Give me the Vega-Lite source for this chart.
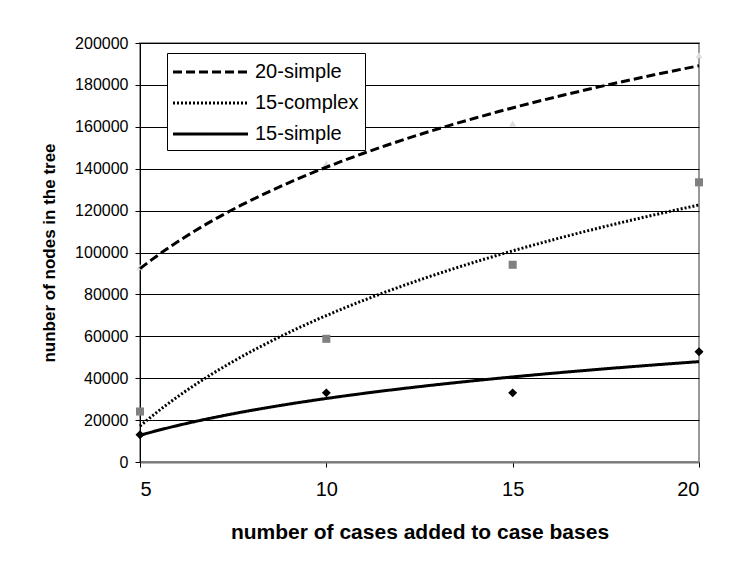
{
  "$schema": "https://vega.github.io/schema/vega-lite/v6.json",
  "autosize": {"type": "none"},
  "padding": {"left": 140, "top": 43, "right": 36, "bottom": 105},
  "width": 559,
  "height": 419,
  "background": "white",
  "config": {
    "font": "Liberation Sans",
    "view": {"stroke": "#999999", "strokeWidth": 2},
    "axis": {"labelFont": "Liberation Sans", "titleFont": "Liberation Sans", "labelColor": "black", "titleColor": "black", "tickColor": "black"}
  },
  "data": {
    "values": [
      {"cases": 5, "nodes": 13000, "series": "15-simple"},
      {"cases": 10, "nodes": 33000, "series": "15-simple"},
      {"cases": 15, "nodes": 33000, "series": "15-simple"},
      {"cases": 20, "nodes": 52600, "series": "15-simple"},
      {"cases": 5, "nodes": 24100, "series": "15-complex"},
      {"cases": 10, "nodes": 58800, "series": "15-complex"},
      {"cases": 15, "nodes": 94150, "series": "15-complex"},
      {"cases": 20, "nodes": 133500, "series": "15-complex"},
      {"cases": 5, "nodes": 93000, "series": "20-simple"},
      {"cases": 10, "nodes": 142400, "series": "20-simple"},
      {"cases": 15, "nodes": 161600, "series": "20-simple"},
      {"cases": 20, "nodes": 194200, "series": "20-simple"}
    ]
  },
  "encoding": {
    "x": {
      "field": "cases", "type": "quantitative",
      "scale": {"domain": [5, 20], "nice": false, "zero": false},
      "axis": {
        "title": "number of cases added to case bases",
        "values": [5, 10, 15, 20],
        "grid": false,
        "domainColor": "#777777", "domainWidth": 2,
        "tickSize": 5, "labelFontSize": 20, "labelPadding": 12,
        "titleFontSize": 21, "titleFontWeight": "bold", "titlePadding": 22
      }
    },
    "y": {
      "field": "nodes", "type": "quantitative",
      "scale": {"domain": [0, 200000], "nice": false},
      "axis": {
        "title": "nunber of nodes in the tree",
        "values": [0, 20000, 40000, 60000, 80000, 100000, 120000, 140000, 160000, 180000, 200000],
        "format": "d",
        "grid": true, "gridColor": "black", "gridWidth": 1,
        "domainColor": "black", "domainWidth": 1,
        "tickSize": 5, "labelFontSize": 16, "labelPadding": 7,
        "titleFontSize": 17, "titleFontWeight": "bold", "titlePadding": 16
      }
    }
  },
  "layer": [
    {
      "mark": {"type": "point", "filled": true, "opacity": 1, "clip": false},
      "encoding": {
        "shape": {
          "field": "series", "type": "nominal",
          "scale": {"domain": ["15-simple", "15-complex", "20-simple"], "range": ["diamond", "square", "triangle-up"]},
          "legend": null
        },
        "color": {
          "field": "series", "type": "nominal",
          "scale": {"domain": ["15-simple", "15-complex", "20-simple"], "range": ["#000000", "#808080", "#dddddd"]},
          "legend": null
        },
        "size": {
          "field": "series", "type": "nominal",
          "scale": {"domain": ["15-simple", "15-complex", "20-simple"], "range": [80, 50, 70]},
          "legend": null
        }
      }
    },
    {
      "transform": [
        {"regression": "nodes", "on": "cases", "groupby": ["series"], "method": "log", "extent": [5, 20]}
      ],
      "mark": {"type": "line", "color": "black", "strokeWidth": 3, "clip": false},
      "encoding": {
        "strokeDash": {
          "field": "series", "type": "nominal",
          "scale": {"domain": ["20-simple", "15-complex", "15-simple"], "range": [[9, 4], [2, 2], [1, 0]]},
          "legend": {
            "title": null,
            "orient": "none", "legendX": 27, "legendY": 10,
            "symbolType": "M -1.13 0 L 5.39 0", "symbolSize": 529, "symbolStrokeWidth": 3, "symbolStrokeColor": "black", "symbolFillColor": "transparent",
            "labelFontSize": 20, "labelColor": "black", "labelOffset": 56,
            "rowPadding": 8,
            "padding": 6, "strokeColor": "black", "fillColor": "white"
          }
        }
      }
    }
  ]
}
